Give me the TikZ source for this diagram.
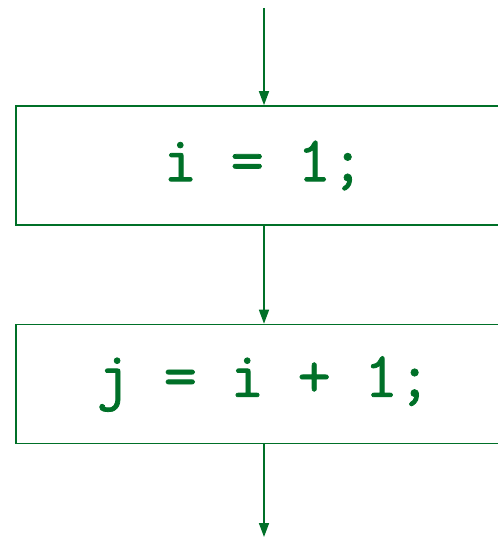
\documentclass[tikz,border=0pt]{standalone}
\usepackage{fontspec}
\newfontfamily\codefont{Latin Modern Mono}[FakeBold=1.2]
\usepackage{tikz}
\usetikzlibrary{arrows.meta}

\definecolor{flowgreen}{RGB}{0,112,40}
\tikzset{
  stmt/.style={draw=flowgreen, line width=1.6pt, minimum width=496pt, minimum height=119pt,
    text=flowgreen, font=\codefont\fontsize{65}{65}\selectfont, inner sep=0pt},
  flow/.style={draw=flowgreen, line width=1.6pt, -{Triangle[length=14pt,width=10pt]}}
}

\begin{document}
\begin{tikzpicture}[x=1pt,y=-1pt]
  \useasboundingbox (0,0) rectangle (497,537);

  % statements
  \node[stmt] (assigni) at (264,165.5) {i = 1;};
  \node[stmt] (assignj) at (264,384) {j = i + 1;};

  % loose ends
  \coordinate (entry) at (264,8);
  \coordinate (exit) at (264,537);

  \draw[flow] (entry) -- (assigni.north);
  \draw[flow] (assigni.south) -- (assignj.north);
  \draw[flow] (assignj.south) -- (exit);
\end{tikzpicture}
\end{document}
